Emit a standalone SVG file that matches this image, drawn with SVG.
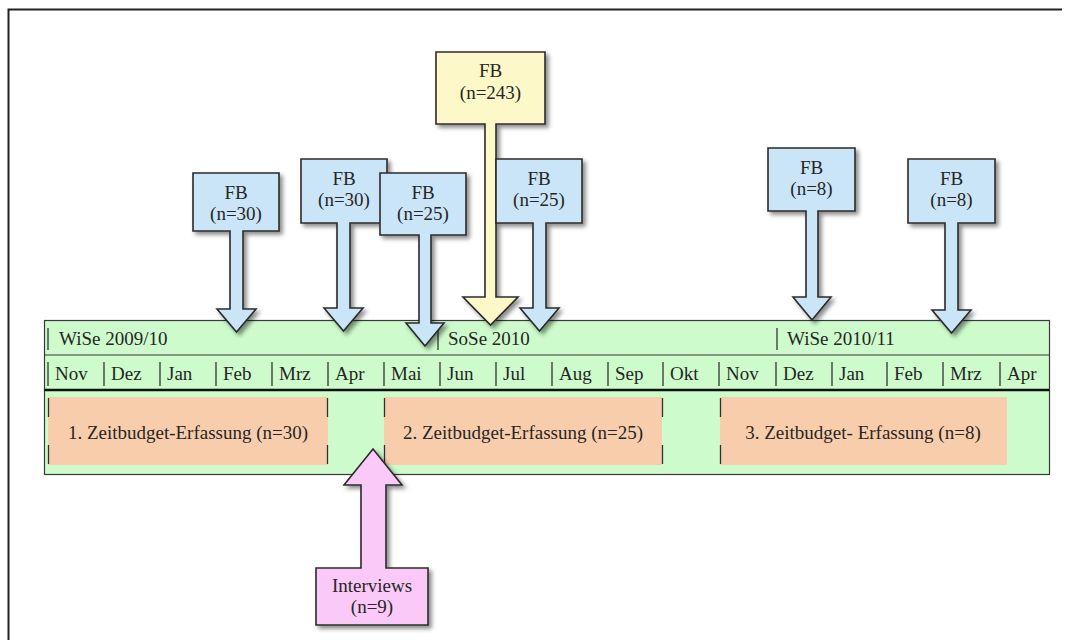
<svg xmlns="http://www.w3.org/2000/svg" width="1070" height="640" viewBox="0 0 1070 640">
<style>
text{font-family:"Liberation Serif","DejaVu Serif","Times New Roman",serif;font-size:19px;fill:#262626}
.c{text-anchor:middle}
.co{stroke:#2b2b2b;stroke-width:1.6;stroke-linejoin:miter}
.blue{fill:#cbe5f8}
.yel{fill:#fdf8c8}
.pink{fill:#fac9f8}
.bar{stroke:#333;stroke-width:1.3}
</style>
<defs>
<filter id="sh" x="-20%" y="-20%" width="150%" height="150%">
<feDropShadow dx="3" dy="3" stdDeviation="2" flood-color="#000" flood-opacity="0.45"/>
</filter>
</defs>
<rect width="1070" height="640" fill="#fff"/>
<path d="M8.5,640 V9.5 H1062" fill="none" stroke="#222" stroke-width="2"/>

<g id="timeline">
<rect x="44.5" y="320.5" width="1005" height="154" fill="#cdfbcb" stroke="#3a3a3a" stroke-width="1.2"/>
<line x1="44.5" y1="355" x2="1049.5" y2="355" stroke="#3a3a3a" stroke-width="1.2"/>
<line x1="44.5" y1="390" x2="1049.5" y2="390" stroke="#111" stroke-width="2.5"/>
<g id="semesters">
<line class="bar" x1="48" y1="328" x2="48" y2="350"/>
<text x="59" y="345">WiSe 2009/10</text>
<line class="bar" x1="438" y1="328" x2="438" y2="350"/>
<text x="448" y="345">SoSe 2010</text>
<line class="bar" x1="777" y1="328" x2="777" y2="350"/>
<text x="787" y="345">WiSe 2010/11</text>
</g>
<g id="months">
<line class="bar" x1="48" y1="362" x2="48" y2="386"/><text x="55" y="380">Nov</text>
<line class="bar" x1="104" y1="362" x2="104" y2="386"/><text x="111" y="380">Dez</text>
<line class="bar" x1="160" y1="362" x2="160" y2="386"/><text x="167" y="380">Jan</text>
<line class="bar" x1="216" y1="362" x2="216" y2="386"/><text x="223" y="380">Feb</text>
<line class="bar" x1="272" y1="362" x2="272" y2="386"/><text x="279" y="380">Mrz</text>
<line class="bar" x1="328" y1="362" x2="328" y2="386"/><text x="335" y="380">Apr</text>
<line class="bar" x1="384" y1="362" x2="384" y2="386"/><text x="391" y="380">Mai</text>
<line class="bar" x1="440" y1="362" x2="440" y2="386"/><text x="447" y="380">Jun</text>
<line class="bar" x1="496" y1="362" x2="496" y2="386"/><text x="503" y="380">Jul</text>
<line class="bar" x1="552" y1="362" x2="552" y2="386"/><text x="559" y="380">Aug</text>
<line class="bar" x1="608" y1="362" x2="608" y2="386"/><text x="615" y="380">Sep</text>
<line class="bar" x1="663" y1="362" x2="663" y2="386"/><text x="670" y="380">Okt</text>
<line class="bar" x1="719" y1="362" x2="719" y2="386"/><text x="726" y="380">Nov</text>
<line class="bar" x1="776" y1="362" x2="776" y2="386"/><text x="783" y="380">Dez</text>
<line class="bar" x1="832" y1="362" x2="832" y2="386"/><text x="839" y="380">Jan</text>
<line class="bar" x1="887" y1="362" x2="887" y2="386"/><text x="894" y="380">Feb</text>
<line class="bar" x1="943" y1="362" x2="943" y2="386"/><text x="950" y="380">Mrz</text>
<line class="bar" x1="1000" y1="362" x2="1000" y2="386"/><text x="1007" y="380">Apr</text>
</g>
</g>

<g id="phase1">
<rect x="48" y="397" width="280" height="68" fill="#f8cdac"/>
<path class="bar" d="M48.5,398 V417 M48.5,445 V464 M327.5,398 V417 M327.5,445 V464"/>
<text class="c" x="188" y="439">1. Zeitbudget-Erfassung (n=30)</text>
</g>
<g id="phase2">
<rect x="384" y="397" width="278" height="68" fill="#f8cdac"/>
<path class="bar" d="M384.5,398 V417 M384.5,445 V464 M662.5,398 V417 M662.5,445 V464"/>
<text class="c" x="523" y="439">2. Zeitbudget-Erfassung (n=25)</text>
</g>
<g id="phase3">
<rect x="720" y="397" width="287" height="68" fill="#f8cdac"/>
<path class="bar" d="M720.5,398 V417 M720.5,445 V464"/>
<text class="c" x="863" y="439">3. Zeitbudget- Erfassung (n=8)</text>
</g>

<g id="connectors" filter="url(#sh)">
<path id="arrow-fb1" class="co blue" d="M193,173 H279 V231 H243 V309 H256 L236.5,332 L217,309 H230 V231 H193 Z"/>
<path id="arrow-fb2" class="co blue" d="M301,159 H387 V223 H350 V308 H363 L343.5,331 L324,308 H337 V223 H301 Z"/>
<path id="arrow-fb3" class="co blue" d="M380,173 H466 V235 H431 V323 H444 L425,346 L406,323 H419 V235 H380 Z"/>
<path id="arrow-fb243" class="co yel" d="M436,52 H545 V124 H496 V297 H518 L490.5,325 L463,297 H485 V124 H436 Z"/>
<path id="arrow-fb4" class="co blue" d="M496,159 H582 V223 H546 V308 H559 L539.5,331 L520,308 H533 V223 H496 Z"/>
<path id="arrow-fb5" class="co blue" d="M768,148 H855 V211 H818 V297 H831 L812,320 L793,297 H806 V211 H768 Z"/>
<path id="arrow-fb6" class="co blue" d="M908,159 H995 V223 H958 V310 H971 L951.5,333 L932,310 H945 V223 H908 Z"/>
<path id="arrow-int" class="co pink" d="M316,625 H428 V568 H386 V485 H402 L373,449 L344,485 H361 V568 H316 Z"/>
</g>

<g id="node-fb1"><text class="c" x="236" y="199">FB</text><text class="c" x="236" y="220">(n=30)</text></g>
<g id="node-fb2"><text class="c" x="344" y="185">FB</text><text class="c" x="344" y="206">(n=30)</text></g>
<g id="node-fb3"><text class="c" x="423" y="199">FB</text><text class="c" x="423" y="220">(n=25)</text></g>
<g id="node-fb243"><text class="c" x="490.5" y="77">FB</text><text class="c" x="490.5" y="99">(n=243)</text></g>
<g id="node-fb4"><text class="c" x="539" y="185">FB</text><text class="c" x="539" y="206">(n=25)</text></g>
<g id="node-fb5"><text class="c" x="811.5" y="174">FB</text><text class="c" x="811.5" y="195">(n=8)</text></g>
<g id="node-fb6"><text class="c" x="951.5" y="185">FB</text><text class="c" x="951.5" y="206">(n=8)</text></g>
<g id="node-interviews"><text class="c" x="372" y="592">Interviews</text><text class="c" x="372" y="613">(n=9)</text></g>
</svg>
